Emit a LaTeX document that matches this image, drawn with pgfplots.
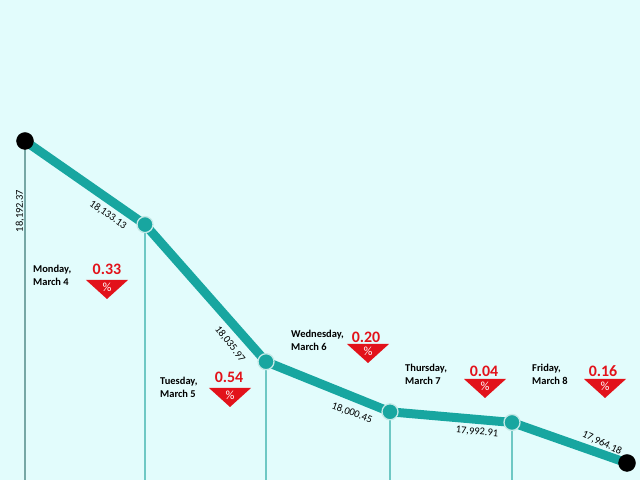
\documentclass[border=0pt]{standalone}
\usepackage{pgfplots}
\pgfplotsset{compat=1.18}
\usepackage{fontspec}
\setmainfont{Carlito}
\definecolor{bgc}{RGB}{226,252,252}
\definecolor{linec}{RGB}{24,166,160}
\definecolor{vlc}{RGB}{110,200,196}
\definecolor{redc}{RGB}{226,18,26}
\begin{document}
\begin{tikzpicture}[x=1bp,y=1bp]
\fill[bgc] (0,0) rectangle (640,480);
\useasboundingbox (0,0) rectangle (640,480);
\begin{axis}[at={(0,0)}, anchor=south west, width=640bp, height=480bp,
  scale only axis, hide axis, clip=false,
  xmin=0, xmax=640, ymin=17952.13, ymax=18292.29]
% vertical guide lines
\addplot[color=gray!45!vlc, line width=1.4bp] coordinates {(25,18192.37) (25,17952.13)};
\addplot[color=vlc, line width=1.4bp] coordinates {(145,18133.13) (145,17952.13)};
\addplot[color=vlc, line width=1.4bp] coordinates {(266,18035.97) (266,17952.13)};
\addplot[color=vlc, line width=1.4bp] coordinates {(390,18000.45) (390,17952.13)};
\addplot[color=vlc, line width=1.4bp] coordinates {(512,17992.91) (512,17952.13)};
% main line
\addplot[color=linec, line width=9bp, line join=round, mark=none] coordinates {
(25,18192.37) (145,18133.13) (266,18035.97) (390,18000.45) (512,17992.91) (627,17964.18)};
\addplot[only marks, mark=*, mark size=8.5bp, draw=black, fill=black] coordinates {(25,18192.37) (627,17964.18)};
\addplot[only marks, mark=*, mark size=8bp, draw=white!75!linec, fill=linec, line width=1.3bp] coordinates {(145,18133.13) (266,18035.97) (390,18000.45) (512,17992.91)};
% value labels
\node[rotate=90, font=\fontsize{10.5}{12}\selectfont] at (rel axis cs:{20/640},{1-211/480}) {18,192.37};
\node[rotate=-35, font=\fontsize{10.5}{12}\selectfont] at (rel axis cs:{108/640},{1-215/480}) {18,133.13};
\node[rotate=-52, font=\fontsize{10.5}{12}\selectfont] at (rel axis cs:{230/640},{1-344/480}) {18,035.97};
\node[rotate=-20, font=\fontsize{10.5}{12}\selectfont] at (rel axis cs:{352/640},{1-413/480}) {18,000.45};
\node[rotate=-5, font=\fontsize{10.5}{12}\selectfont] at (rel axis cs:{477/640},{1-432/480}) {17,992.91};
\node[rotate=-25, font=\fontsize{10.5}{12}\selectfont] at (rel axis cs:{602/640},{1-443/480}) {17,964.18};
% day labels
\node[anchor=west, align=left, inner sep=0pt, font=\bfseries\fontsize{10.5}{13}\selectfont] at (rel axis cs:{33/640},{1-275/480}) {Monday,\\March 4};
\node[anchor=west, align=left, inner sep=0pt, font=\bfseries\fontsize{10.5}{13}\selectfont] at (rel axis cs:{160/640},{1-387/480}) {Tuesday,\\March 5};
\node[anchor=west, align=left, inner sep=0pt, font=\bfseries\fontsize{10.5}{13}\selectfont] at (rel axis cs:{291/640},{1-340/480}) {Wednesday,\\March 6};
\node[anchor=west, align=left, inner sep=0pt, font=\bfseries\fontsize{10.5}{13}\selectfont] at (rel axis cs:{405/640},{1-374/480}) {Thursday,\\March 7};
\node[anchor=west, align=left, inner sep=0pt, font=\bfseries\fontsize{10.5}{13}\selectfont] at (rel axis cs:{532/640},{1-374/480}) {Friday,\\March 8};
% percentages
\node[text=redc, font=\bfseries\fontsize{16}{18}\selectfont] at (rel axis cs:{107/640},{1-269/480}) {0.33};
\node[text=redc, font=\bfseries\fontsize{16}{18}\selectfont] at (rel axis cs:{229/640},{1-377/480}) {0.54};
\node[text=redc, font=\bfseries\fontsize{16}{18}\selectfont] at (rel axis cs:{366/640},{1-337/480}) {0.20};
\node[text=redc, font=\bfseries\fontsize{16}{18}\selectfont] at (rel axis cs:{484/640},{1-371/480}) {0.04};
\node[text=redc, font=\bfseries\fontsize{16}{18}\selectfont] at (rel axis cs:{603/640},{1-371/480}) {0.16};
% triangles
\fill[redc] (rel axis cs:{86/640},{1-280/480}) -- (rel axis cs:{128/640},{1-280/480}) -- (rel axis cs:{107/640},{1-299/480}) -- cycle;
\fill[redc] (rel axis cs:{209/640},{1-388/480}) -- (rel axis cs:{251/640},{1-388/480}) -- (rel axis cs:{230/640},{1-407/480}) -- cycle;
\fill[redc] (rel axis cs:{347/640},{1-344/480}) -- (rel axis cs:{389/640},{1-344/480}) -- (rel axis cs:{368/640},{1-363/480}) -- cycle;
\fill[redc] (rel axis cs:{464/640},{1-379/480}) -- (rel axis cs:{506/640},{1-379/480}) -- (rel axis cs:{485/640},{1-398/480}) -- cycle;
\fill[redc] (rel axis cs:{584/640},{1-379/480}) -- (rel axis cs:{626/640},{1-379/480}) -- (rel axis cs:{605/640},{1-398/480}) -- cycle;
\node[text=white, font=\fontsize{12.5}{14}\selectfont] at (rel axis cs:{107/640},{1-287/480}) {\%};
\node[text=white, font=\fontsize{12.5}{14}\selectfont] at (rel axis cs:{230/640},{1-395/480}) {\%};
\node[text=white, font=\fontsize{12.5}{14}\selectfont] at (rel axis cs:{368/640},{1-351/480}) {\%};
\node[text=white, font=\fontsize{12.5}{14}\selectfont] at (rel axis cs:{485/640},{1-386/480}) {\%};
\node[text=white, font=\fontsize{12.5}{14}\selectfont] at (rel axis cs:{605/640},{1-386/480}) {\%};
\end{axis}
\end{tikzpicture}
\end{document}
